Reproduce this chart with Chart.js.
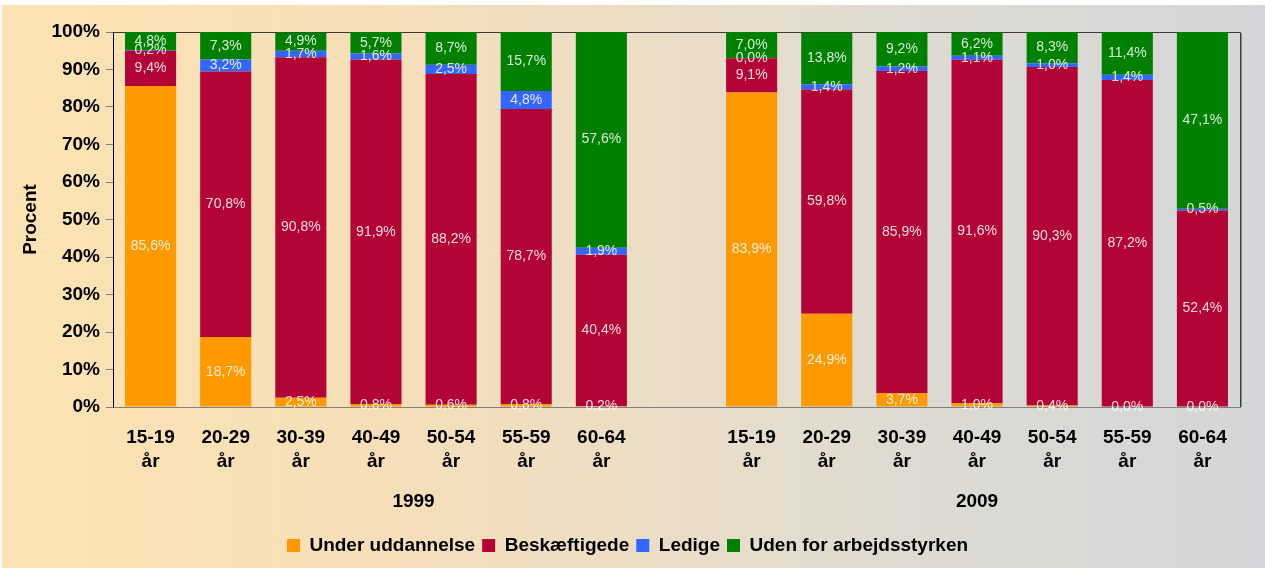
<!DOCTYPE html>
<html>
<head>
<meta charset="utf-8">
<script src="https://cdn.jsdelivr.net/npm/chart.js@4.4.0/dist/chart.umd.min.js"></script>
<style>
  html, body { margin: 0; padding: 0; background: #fff; overflow: hidden; }
  #panel {
    position: absolute; left: 2px; top: 5px; width: 1263px; height: 563px;
    background: linear-gradient(to right, #fce3b3 0%, #f6dfb8 30%, #e9ddc8 55%, #dcdad3 75%, #d3d6d8 100%);
  }
  #wrap { position: absolute; left: 0; top: 0; width: 1265px; height: 568px; }
</style>
</head>
<body>
<div id="panel"></div>
<div id="wrap"><canvas id="myChart"></canvas></div>
<script>
const ageGroups = ["15-19", "20-29", "30-39", "40-49", "50-54", "55-59", "60-64"];
const years = ["1999", "2009"];

// 1999
const under1999 = [85.6, 18.7, 2.5, 0.8, 0.6, 0.8, 0.2];
const besk1999 = [9.4, 70.8, 90.8, 91.9, 88.2, 78.7, 40.4];
const ledige1999 = [0.2, 3.2, 1.7, 1.6, 2.5, 4.8, 1.9];
const uden1999 = [4.8, 7.3, 4.9, 5.7, 8.7, 15.7, 57.6];

// 2009
const under2009 = [83.9, 24.9, 3.7, 1.0, 0.4, 0.0, 0.0];
const besk2009 = [9.1, 59.8, 85.9, 91.6, 90.3, 87.2, 52.4];
const ledige2009 = [0.0, 1.4, 1.2, 1.1, 1.0, 1.4, 0.5];
const uden2009 = [7.0, 13.8, 9.2, 6.2, 8.3, 11.4, 47.1];

const yTicks = [0, 10, 20, 30, 40, 50, 60, 70, 80, 90, 100];

const FONT = "'Liberation Sans', Arial, sans-serif";

// one empty slot between the two years
const labels = ageGroups.map(a => [a, "år"]).concat([""], ageGroups.map(a => [a, "år"]));
const join = (a, b) => a.concat([null], b);

const fmt = v => v.toFixed(1).replace(".", ",") + "%";

const valueLabels = {
  id: "valueLabels",
  afterDatasetsDraw(chart) {
    const ctx = chart.ctx;
    ctx.save();
    ctx.font = "14px " + FONT;
    ctx.fillStyle = "rgba(255,255,255,0.85)";
    ctx.textAlign = "center";
    ctx.textBaseline = "middle";
    chart.data.datasets.forEach((ds, i) => {
      chart.getDatasetMeta(i).data.forEach((el, j) => {
        const v = ds.data[j];
        if (v === null) return;
        ctx.fillText(fmt(v), el.x, (el.y + el.base) / 2);
      });
    });
    ctx.restore();
  }
};

const frame = {
  id: "frame",
  beforeDatasetsDraw(chart) {
    const {ctx, chartArea: a} = chart;
    ctx.save();
    ctx.strokeStyle = "#3a3a3a";
    ctx.lineWidth = 1;
    ctx.beginPath();
    ctx.moveTo(a.left, a.top + 0.5);
    ctx.lineTo(a.right + 0.5, a.top + 0.5);
    ctx.lineTo(a.right + 0.5, a.bottom);
    ctx.stroke();
    ctx.strokeStyle = "#8a8a8a";
    ctx.beginPath();
    ctx.moveTo(a.right + 1.5, a.top + 1);
    ctx.lineTo(a.right + 1.5, a.bottom);
    ctx.stroke();
    ctx.restore();
  }
};

const yearLabels = {
  id: "yearLabels",
  afterDraw(chart) {
    const ctx = chart.ctx;
    const x = chart.scales.x;
    ctx.save();
    ctx.font = "bold 19px " + FONT;
    ctx.fillStyle = "#000";
    ctx.textAlign = "center";
    ctx.textBaseline = "middle";
    ctx.fillText(years[0], x.getPixelForValue(3.5), 502);
    ctx.fillText(years[1], x.getPixelForValue(11), 502);
    ctx.restore();
  }
};

new Chart(document.getElementById("myChart"), {
  type: "bar",
  data: {
    labels: labels,
    datasets: [
      { label: "Under uddannelse", data: join(under1999, under2009), backgroundColor: "#ff9900" },
      { label: "Beskæftigede", data: join(besk1999, besk2009), backgroundColor: "#b20535" },
      { label: "Ledige", data: join(ledige1999, ledige2009), backgroundColor: "#3366ff" },
      { label: "Uden for arbejdsstyrken", data: join(uden1999, uden2009), backgroundColor: "#008000" },
    ],
  },
  options: {
    responsive: true,
    maintainAspectRatio: false,
    animation: false,
    datasets: { bar: { categoryPercentage: 1, barPercentage: 0.68, borderWidth: 0 } },
    layout: { padding: { top: 32, right: 25, left: 15, bottom: 3 } },
    plugins: {
      tooltip: { enabled: false },
      legend: {
        position: "bottom",
        labels: {
          color: "#000",
          font: { family: FONT, size: 19, weight: "bold" },
          boxWidth: 13,
          boxHeight: 13,
          padding: 7,
        },
      },
    },
    scales: {
      x: {
        stacked: true,
        grid: { display: false, drawTicks: false },
        border: { color: "#808080" },
        ticks: {
          color: "#000",
          font: { family: FONT, size: 19, weight: "bold", lineHeight: 1.3 },
          padding: 18,
          maxRotation: 0,
          autoSkip: false,
        },
        afterFit: s => { s.height = 122; },
      },
      y: {
        stacked: true,
        min: 0,
        max: 100,
        afterBuildTicks: s => { s.ticks = yTicks.map(v => ({ value: v })); },
        ticks: {
          color: "#000",
          font: { family: FONT, size: 19, weight: "bold" },
          padding: 6,
          callback: v => v + "%",
        },
        grid: { drawOnChartArea: false, tickLength: 7, tickColor: "#808080" },
        border: { color: "#000" },
        title: {
          display: true,
          text: "Procent",
          color: "#000",
          font: { family: FONT, size: 19, weight: "bold" },
          padding: { top: 4 },
        },
        afterFit: s => { s.width = 98; },
      },
    },
  },
  plugins: [frame, valueLabels, yearLabels],
});
</script>
</body>
</html>
